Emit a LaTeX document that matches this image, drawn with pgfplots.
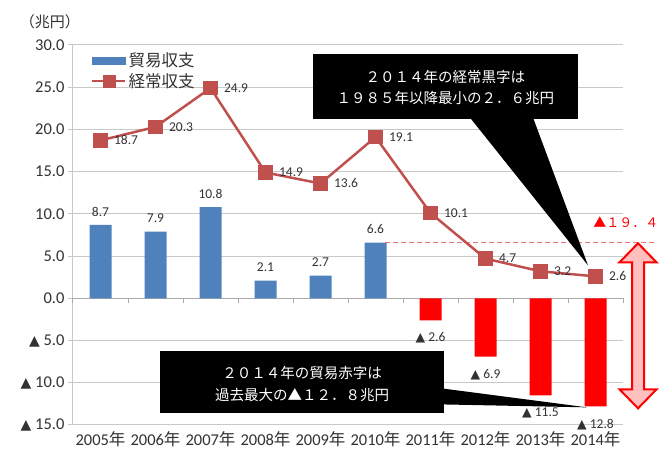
\documentclass[border=0pt]{standalone}
\usepackage{fontspec}
\setmainfont{Carlito}
\newfontfamily\jp{Noto Sans CJK JP}
\newfontfamily\dv{DejaVu Sans}
\usepackage{pgfplots}
\pgfplotsset{compat=1.18}
\definecolor{barblue}{RGB}{79,129,189}
\definecolor{linered}{RGB}{192,80,77}
\definecolor{gridgray}{RGB}{200,200,200}
\definecolor{zerogray}{RGB}{170,170,170}
\definecolor{txt}{RGB}{50,50,50}
\definecolor{dashred}{RGB}{230,120,120}
\newcommand\tri{{\dv\fontsize{14}{14}\selectfont ▲}}
\newcommand\trs{{\dv\fontsize{12.5}{12.5}\selectfont ▲}}
\begin{document}
\begin{tikzpicture}
\useasboundingbox (-73pt,-27pt) rectangle (588pt,425pt);
\begin{axis}[
  at={(0,0)}, anchor=south west, scale only axis,
  width=550pt, height=380pt,
  xmin=-0.5, xmax=9.5, ymin=-15, ymax=30,
  axis lines*=left,
  x axis line style={draw=none},
  y axis line style={gridgray, line width=1pt},
  ytick={-15,-10,...,30},
  yticklabels={\tri\ 15.0,\tri\ 10.0,\tri\ 5.0,0.0,5.0,10.0,15.0,20.0,25.0,30.0},
  ymajorgrids, grid style={gridgray, line width=1pt},
  ytick style={gridgray, line width=1pt},
  tick align=outside, major tick length=5pt,
  yticklabel style={font=\fontsize{16.5}{16.5}\selectfont, text=txt},
  xtick={0,...,9},
  xticklabels={2005{\jp 年},2006{\jp 年},2007{\jp 年},2008{\jp 年},2009{\jp 年},2010{\jp 年},2011{\jp 年},2012{\jp 年},2013{\jp 年},2014{\jp 年}},
  xtick style={draw=none},
  xticklabel style={font=\fontsize{16.5}{16.5}\selectfont, text=txt, yshift=2pt},
  clip=false,
  legend style={at={(0.027,0.99)}, anchor=north west, draw=none, fill=none,
    font=\jp\fontsize{16.5}{16.5}\selectfont, text=txt, row sep=1pt},
  legend cell align=left,
]
% zero line with category ticks
\draw[zerogray, line width=1pt] (axis cs:-0.5,0) -- (axis cs:9.5,0);
\pgfplotsinvokeforeach{-0.5,0.5,1.5,2.5,3.5,4.5,5.5,6.5,7.5,8.5,9.5}{
  \draw[zerogray, line width=1pt] (axis cs:#1,0) -- ++(0pt,-5pt);
}
% legend entries
\addlegendimage{legend image code/.code={\fill[barblue] (0pt,-3.5pt) rectangle (33pt,3.5pt);}}
\addlegendentry{貿易収支}
\addlegendimage{legend image code/.code={\draw[linered, line width=2.5pt] (0pt,0pt) -- (33pt,0pt); \fill[linered] (10.5pt,-6pt) rectangle (22.5pt,6pt);}}
\addlegendentry{経常収支}
% blue bars
\addplot[ybar, bar width=22pt, bar shift=0pt, fill=barblue, draw=none, forget plot,
  nodes near coords, point meta=explicit symbolic,
  every node near coord/.append style={font=\fontsize{13.5}{13.5}\selectfont, text=txt, yshift=5pt}]
  coordinates {(0,8.7)[8.7] (1,7.9)[7.9] (2,10.8)[10.8] (3,2.1)[2.1] (4,2.7)[2.7] (5,6.6)[6.6]};
% red bars
\addplot[ybar, bar width=22pt, bar shift=0pt, fill=red, draw=none, forget plot,
  nodes near coords={\trs\ \pgfplotspointmeta}, point meta=explicit symbolic,
  every node near coord/.append style={font=\fontsize{13.5}{13.5}\selectfont, text=txt, anchor=north, yshift=-9pt}]
  coordinates {(6,-2.6)[2.6] (7,-6.9)[6.9] (8,-11.5)[11.5] (9,-12.8)[12.8]};
% dashed reference line
\draw[dashred, line width=1.3pt, dash pattern=on 5pt off 3pt] (axis cs:5.17,6.6) -- (axis cs:10.08,6.6);
% current account line
\addplot[linered, line width=2.5pt, mark=square*, mark size=6pt, mark options={solid, fill=linered}, forget plot,
  nodes near coords, point meta=explicit symbolic,
  every node near coord/.append style={font=\fontsize{13.5}{13.5}\selectfont, text=txt, anchor=west, xshift=9pt}]
  coordinates {(0,18.7)[18.7] (1,20.3)[20.3] (2,24.9)[24.9] (3,14.9)[14.9] (4,13.6)[13.6] (5,19.1)[19.1] (6,10.1)[10.1] (7,4.7)[4.7] (8,3.2)[3.2] (9,2.6)[2.6]};
% callout 1
\fill[black] (axis cs:3.864,28.91) rectangle (axis cs:8.682,21.21);
\fill[black] (axis cs:6.718,21.4) -- (axis cs:7.864,21.4) -- (axis cs:8.864,3.9) -- cycle;
\node[text=white, font=\jp\fontsize{14.5}{21}\selectfont, align=center] at (axis cs:6.27,24.95) {２０１４年の経常黒字は\\１９８５年以降最小の２．６兆円};
% callout 2
\fill[black] (axis cs:1.082,-6.28) rectangle (axis cs:6.245,-13.63);
\fill[black] (axis cs:6.2,-10.66) -- (axis cs:8.845,-12.91) -- (axis cs:6.2,-12.56) -- cycle;
\node[text=white, font=\jp\fontsize{14.5}{22}\selectfont, align=center] at (axis cs:3.664,-10.19) {２０１４年の貿易赤字は\\過去最大の▲１２．８兆円};
% double arrow
\filldraw[fill=red!25, draw=red, line width=2pt, line join=miter]
  (axis cs:9.773,6.52) -- (axis cs:10.109,4.27) -- (axis cs:9.882,4.27) -- (axis cs:9.882,-10.78)
  -- (axis cs:10.109,-10.78) -- (axis cs:9.773,-13.03) -- (axis cs:9.437,-10.78) -- (axis cs:9.664,-10.78)
  -- (axis cs:9.664,4.27) -- (axis cs:9.437,4.27) -- cycle;
\node[text=red, font=\jp\fontsize{13}{13}\selectfont] at (axis cs:9.55,9.0) {▲１９．４};
% unit
\node[text=txt, font=\jp\fontsize{15}{15}\selectfont] at (rel axis cs:-0.042,1.061) {（兆円）};
\end{axis}
\end{tikzpicture}
\end{document}
